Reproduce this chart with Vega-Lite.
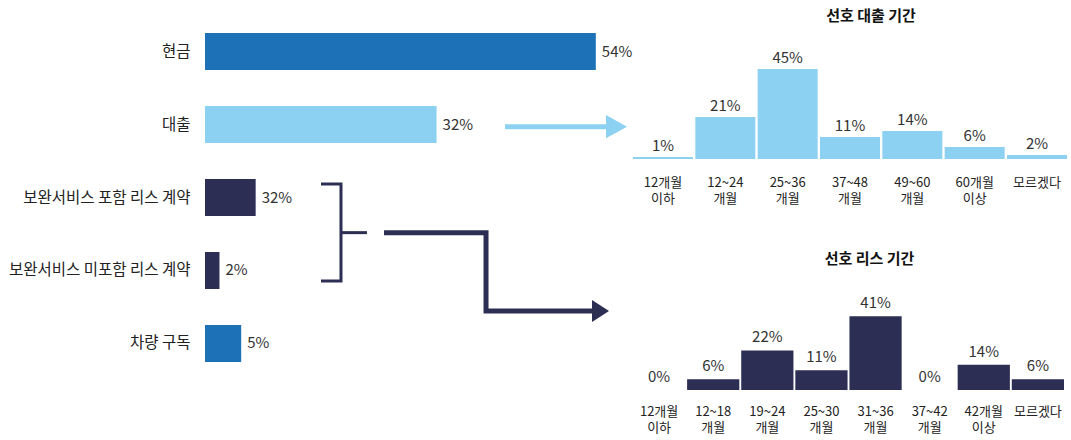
{
  "$schema": "https://vega.github.io/schema/vega-lite/v6.json",
  "background": "white",
  "padding": {"left": 8, "top": 9, "right": 4, "bottom": 2},
  "config": {
    "view": {"stroke": null},
    "font": "Noto Sans CJK KR",
    "axis": {"domain": false, "ticks": false, "grid": false}
  },
  "datasets": {
    "method": [
      {"cat": "현금", "share": 0.54, "label": "54%"},
      {"cat": "대출", "share": 0.32, "label": "32%"},
      {"cat": "보완서비스 포함 리스 계약", "share": 0.07, "label": "32%"},
      {"cat": "보완서비스 미포함 리스 계약", "share": 0.02, "label": "2%"},
      {"cat": "차량 구독", "share": 0.05, "label": "5%"}
    ],
    "loan": [
      {"term": "12개월 이하", "share": 0.01},
      {"term": "12~24 개월", "share": 0.21},
      {"term": "25~36 개월", "share": 0.45},
      {"term": "37~48 개월", "share": 0.11},
      {"term": "49~60 개월", "share": 0.14},
      {"term": "60개월 이상", "share": 0.06},
      {"term": "모르겠다", "share": 0.02}
    ],
    "lease": [
      {"term": "12개월 이하", "share": 0.0},
      {"term": "12~18 개월", "share": 0.06},
      {"term": "19~24 개월", "share": 0.22},
      {"term": "25~30 개월", "share": 0.11},
      {"term": "31~36 개월", "share": 0.41},
      {"term": "37~42 개월", "share": 0.0},
      {"term": "42개월 이상", "share": 0.14},
      {"term": "모르겠다", "share": 0.06}
    ],
    "loanArrow": [
      {"p": 0.4145, "v": 1.53, "o": 1},
      {"p": 0.56, "v": 1.53, "o": 2}
    ],
    "loanHead": [{"p": 0.5686, "v": 1.53}],
    "bracket": [
      {"p": 0.1603, "v": 2.315, "o": 1},
      {"p": 0.1879, "v": 2.315, "o": 2},
      {"p": 0.1879, "v": 3.644, "o": 3},
      {"p": 0.1603, "v": 3.644, "o": 4}
    ],
    "bracketTick": [
      {"p": 0.1879, "v": 2.982, "o": 1},
      {"p": 0.2238, "v": 2.982, "o": 2}
    ],
    "leaseArrow": [
      {"p": 0.2473, "v": 2.982, "o": 1},
      {"p": 0.3883, "v": 2.982, "o": 2},
      {"p": 0.3883, "v": 4.055, "o": 3},
      {"p": 0.5389, "v": 4.055, "o": 4}
    ],
    "leaseHead": [{"p": 0.5465, "v": 4.055}]
  },
  "spacing": 0,
  "hconcat": [
    {
      "width": 427,
      "height": 377,
      "resolve": {"scale": {"y": "independent"}},
      "layer": [
        {
          "data": {"name": "method"},
          "encoding": {
            "y": {
              "field": "cat", "type": "nominal", "sort": null,
              "scale": {"paddingInner": 0.493, "paddingOuter": 0.329},
              "axis": {"title": null, "labelFontSize": 15.5, "labelPadding": 15, "labelLimit": 300, "labelColor": "#222", "labelFont": "Noto Sans CJK KR"}
            },
            "x": {"field": "share", "type": "quantitative", "scale": {"domain": [0, 0.59], "nice": false}, "axis": null}
          },
          "layer": [
            {
              "mark": {"type": "bar"},
              "encoding": {
                "color": {
                  "field": "cat", "type": "nominal", "legend": null,
                  "scale": {
                    "domain": ["현금", "대출", "보완서비스 포함 리스 계약", "보완서비스 미포함 리스 계약", "차량 구독"],
                    "range": ["#1c71b7", "#8dd1f2", "#2c2e54", "#2c2e54", "#1c71b7"]
                  }
                }
              }
            },
            {
              "mark": {"type": "text", "align": "left", "baseline": "middle", "dx": 6, "fontSize": 15, "color": "#333", "font": "Noto Sans CJK KR"},
              "encoding": {"text": {"field": "label", "type": "nominal"}}
            }
          ]
        },
        {
          "encoding": {
            "x": {"field": "p", "type": "quantitative"},
            "y": {"field": "v", "type": "quantitative", "scale": {"domain": [-0.082, 5.083], "reverse": true, "nice": false, "zero": false}, "axis": null}
          },
          "layer": [
            {
              "data": {"name": "loanArrow"},
              "mark": {"type": "line", "color": "#8dd1f2", "strokeWidth": 5, "strokeCap": "butt"},
              "encoding": {"order": {"field": "o", "type": "quantitative"}}
            },
            {
              "data": {"name": "loanHead"},
              "mark": {"type": "point", "shape": "M-1,-1.1L1,0L-1,1.1Z", "size": 441, "filled": true, "color": "#8dd1f2", "opacity": 1}
            },
            {
              "data": {"name": "bracket"},
              "mark": {"type": "line", "color": "#2c2e54", "strokeWidth": 3, "strokeJoin": "miter", "strokeCap": "butt"},
              "encoding": {"order": {"field": "o", "type": "quantitative"}}
            },
            {
              "data": {"name": "bracketTick"},
              "mark": {"type": "line", "color": "#2c2e54", "strokeWidth": 3, "strokeCap": "butt"},
              "encoding": {"order": {"field": "o", "type": "quantitative"}}
            },
            {
              "data": {"name": "leaseArrow"},
              "mark": {"type": "line", "color": "#2c2e54", "strokeWidth": 5, "strokeJoin": "miter", "strokeCap": "butt"},
              "encoding": {"order": {"field": "o", "type": "quantitative"}}
            },
            {
              "data": {"name": "leaseHead"},
              "mark": {"type": "point", "shape": "M-1,-1.3L1,0L-1,1.3Z", "size": 289, "filled": true, "color": "#2c2e54", "opacity": 1}
            }
          ]
        }
      ]
    },
    {
      "spacing": 47,
      "vconcat": [
        {
          "data": {"name": "loan"},
          "width": 434,
          "height": 150,
          "title": {"text": "선호 대출 기간", "fontSize": 15, "fontWeight": "bold", "color": "#111", "dx": 21, "offset": -15, "font": "Noto Sans CJK KR"},
          "encoding": {
            "x": {
              "field": "term", "type": "nominal", "sort": null,
              "scale": {"paddingInner": 0.037, "paddingOuter": 0},
              "axis": {"title": null, "labelAngle": 0, "labelExpr": "split(datum.label, ' ')", "labelFontSize": 13, "labelLineHeight": 16, "labelPadding": 17, "labelColor": "#222", "labelFont": "Noto Sans CJK KR"}
            },
            "y": {"field": "share", "type": "quantitative", "scale": {"domain": [0, 0.75], "nice": false}, "axis": null}
          },
          "layer": [
            {"mark": {"type": "bar", "color": "#8dd1f2"}},
            {
              "mark": {"type": "text", "baseline": "alphabetic", "dy": -6, "fontSize": 15, "color": "#333", "font": "Noto Sans CJK KR"},
              "encoding": {"text": {"field": "share", "type": "quantitative", "format": ".0%"}}
            }
          ]
        },
        {
          "data": {"name": "lease"},
          "width": 431,
          "height": 90,
          "title": {"text": "선호 리스 기간", "fontSize": 15, "fontWeight": "bold", "color": "#111", "dx": 21, "offset": 29, "font": "Noto Sans CJK KR"},
          "encoding": {
            "x": {
              "field": "term", "type": "nominal", "sort": null,
              "scale": {"paddingInner": 0.035, "paddingOuter": 0},
              "axis": {"title": null, "labelAngle": 0, "labelExpr": "split(datum.label, ' ')", "labelFontSize": 13, "labelLineHeight": 16, "labelPadding": 15, "labelColor": "#222", "labelFont": "Noto Sans CJK KR"}
            },
            "y": {"field": "share", "type": "quantitative", "scale": {"domain": [0, 0.5], "nice": false}, "axis": null}
          },
          "layer": [
            {"mark": {"type": "bar", "color": "#2c2e54"}},
            {
              "mark": {"type": "text", "baseline": "alphabetic", "dy": -8, "fontSize": 15, "color": "#333", "font": "Noto Sans CJK KR"},
              "encoding": {"text": {"field": "share", "type": "quantitative", "format": ".0%"}}
            }
          ]
        }
      ]
    }
  ]
}
